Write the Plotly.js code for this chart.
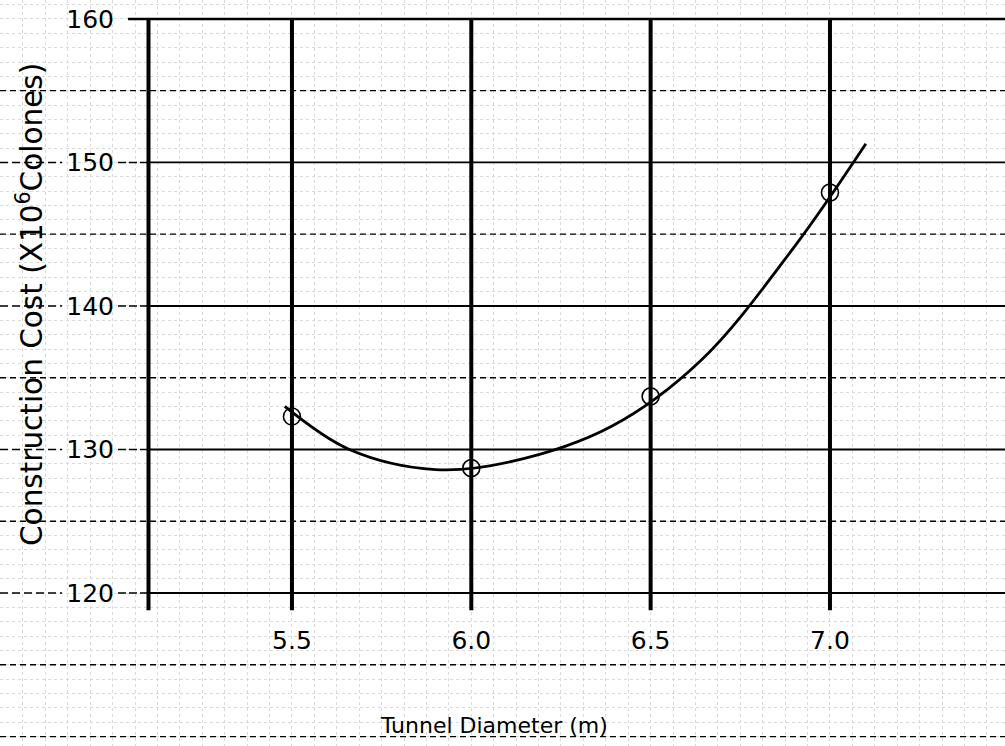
<!DOCTYPE html>
<html>
<head>
<meta charset="utf-8">
<script src="https://cdn.plot.ly/plotly-3.0.1.min.js"></script>
<style>
  html, body { margin: 0; padding: 0; background: #fff; }
  #chart { width: 1005px; height: 746px; }
</style>
</head>
<body>
<div id="chart"></div>
<script>
// Tunnel diameter (m) against construction cost (x10^6 colones)
const diameters = [5.5, 6.0, 6.5, 7.0];
const costs = [132.3, 128.7, 133.7, 147.9];

// Fitted cost curve, read along its length
const curveDiameters = [5.48, 5.66, 5.90, 6.11, 6.39, 6.64, 6.90, 7.10];
const curveCosts     = [133.0, 130.0, 128.6, 129.15, 131.6, 136.2, 144.1, 151.3];

// Axis ticks
const diameterTicks = [5.5, 6.0, 6.5, 7.0];
const diameterTickText = ['5.5', '6.0', '6.5', '7.0'];
const costTicks = [120, 130, 140, 150, 160];
const costTickText = ['120', '130', '140', '150', '160'];

// Dashed rulings of the graph paper between the main levels
const paperDashedLevels = [110, 115, 125, 135, 145, 155];

// Sheet geometry in data units
const xRange = [4.686, 7.488];
const yRange = [109.34, 161.32];
const yAxisAt = 5.1;          // where the cost axis stands
const frameBottom = 118.8;    // heavy verticals run slightly below 120
const labelGap = [4.859, 5.015];

const shapes = [];

// graph-paper dashed rulings across the whole sheet
paperDashedLevels.forEach(v => shapes.push({
  type: 'line', xref: 'x', yref: 'y', layer: 'between',
  x0: xRange[0], x1: xRange[1], y0: v, y1: v,
  line: { color: '#000', width: 1.3, dash: '6px,4px' }
}));

// horizontal rulings at each labelled cost
costTicks.forEach(v => {
  const top = v === costTicks[costTicks.length - 1];
  shapes.push({
    type: 'line', xref: 'x', yref: 'y', layer: 'between',
    x0: top ? 5.043 : yAxisAt, x1: xRange[1], y0: v, y1: v,
    line: { color: '#000', width: top ? 2.6 : 1.8 }
  });
  if (!top) {
    shapes.push({
      type: 'line', xref: 'x', yref: 'y', layer: 'between',
      x0: xRange[0], x1: labelGap[0], y0: v, y1: v,
      line: { color: '#000', width: 1.5, dash: '8px,4px' }
    });
    shapes.push({
      type: 'line', xref: 'x', yref: 'y', layer: 'between',
      x0: labelGap[1], x1: yAxisAt, y0: v, y1: v,
      line: { color: '#000', width: 1.5, dash: '8px,3px' }
    });
  }
});

// heavy verticals: the cost axis and one at each diameter tick
[yAxisAt].concat(diameterTicks).forEach(v => shapes.push({
  type: 'line', xref: 'x', yref: 'y', layer: 'between',
  x0: v, x1: v, y0: frameBottom, y1: costTicks[costTicks.length - 1],
  line: { color: '#000', width: 4 }
}));

const curve = {
  x: curveDiameters, y: curveCosts,
  type: 'scatter', mode: 'lines',
  line: { color: '#000', width: 2.8, shape: 'spline', smoothing: 1.0 },
  hoverinfo: 'skip', showlegend: false
};

const points = {
  x: diameters, y: costs,
  type: 'scatter', mode: 'markers',
  marker: { symbol: 'circle-open', size: 17, color: '#000', line: { width: 1.6, color: '#000' } },
  showlegend: false
};

const tickFont = { family: 'DejaVu Sans, sans-serif', size: 25, color: '#000' };

const layout = {
  width: 1005, height: 746,
  margin: { l: 0, r: 0, t: 0, b: 0, pad: 0 },
  paper_bgcolor: '#fff', plot_bgcolor: '#fff',
  showlegend: false,
  xaxis: {
    range: xRange, anchor: 'free', position: 1 - 593 / 746,
    tickmode: 'array', tickvals: diameterTicks, ticktext: diameterTickText,
    ticks: '', showline: false, zeroline: false, showgrid: false,
    ticklabelstandoff: 30, tickfont: tickFont, automargin: false,
    minor: { tick0: 5.5, dtick: 0.0625, showgrid: true, gridcolor: '#dadada', griddash: 'dot', gridwidth: 1 }
  },
  yaxis: {
    range: yRange, anchor: 'free', position: 148 / 1005,
    tickmode: 'array', tickvals: costTicks, ticktext: costTickText,
    ticks: '', showline: false, zeroline: false, showgrid: false,
    ticklabelstandoff: 34, tickfont: tickFont, automargin: false,
    minor: { tick0: 120, dtick: 1, showgrid: true, gridcolor: '#dadada', griddash: 'dot', gridwidth: 1 }
  },
  shapes: shapes,
  annotations: [
    {
      text: 'Construction Cost (X10<sup>6</sup>Colones)',
      xref: 'paper', yref: 'paper', x: 30 / 1005, y: 1 - 305 / 746,
      textangle: -90, showarrow: false, xanchor: 'center', yanchor: 'middle',
      font: { family: 'DejaVu Sans, sans-serif', size: 29.5, color: '#000' }
    },
    {
      text: 'Tunnel Diameter (m)',
      xref: 'paper', yref: 'paper', x: 494 / 1005, y: 1 - 725 / 746,
      showarrow: false, xanchor: 'center', yanchor: 'middle',
      font: { family: 'DejaVu Sans, sans-serif', size: 22, color: '#000' }
    }
  ]
};

Plotly.newPlot('chart', [curve, points], layout, { displayModeBar: false, staticPlot: true });
</script>
</body>
</html>
